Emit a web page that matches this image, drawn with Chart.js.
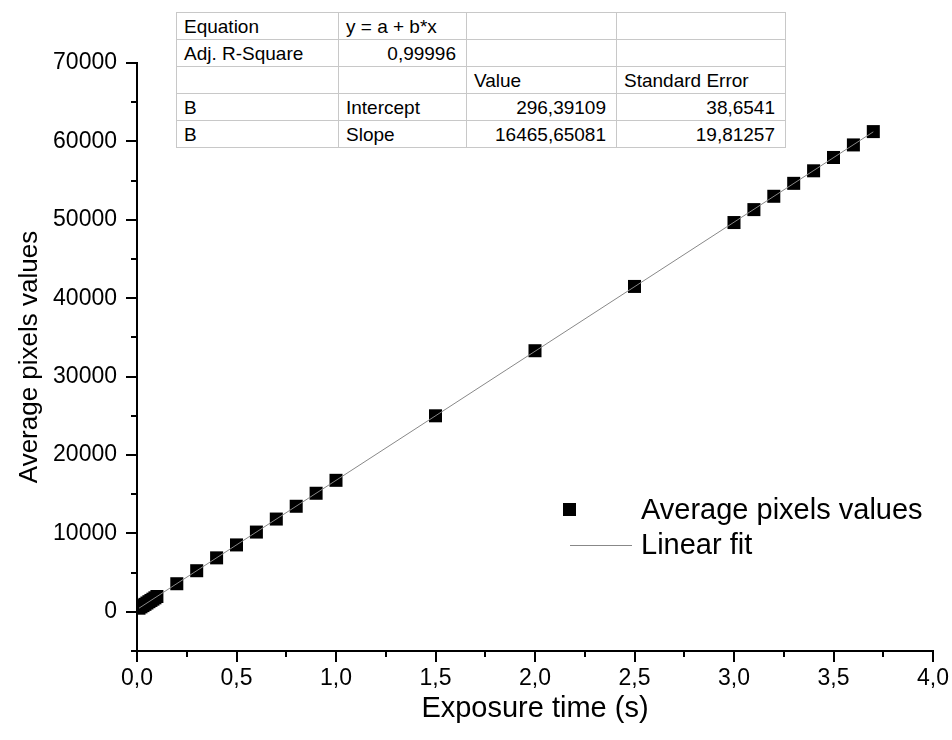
<!DOCTYPE html>
<html>
<head>
<meta charset="utf-8">
<script src="https://cdn.jsdelivr.net/npm/chart.js@4"></script>
<style>
  body { margin: 0; background: #fff; font-family: "Liberation Sans", Arial, sans-serif; }
  #wrap { position: relative; width: 952px; height: 740px; }
  #fitTable {
    position: absolute; left: 176px; top: 12px; width: 609px;
    table-layout: fixed; border-collapse: collapse; border: 1.5px solid #333;
    font-size: 19px; color: #000; background: #fff;
  }
  #fitTable tr { height: 27px; }
  #fitTable td { border: 1px solid #c8c8c8; padding: 0 10px 0 7px; line-height: 25px; white-space: nowrap; }
  #fitTable td.r { text-align: right; }
  #legend { position: absolute; left: 560px; top: 492px; font-size: 29px; color: #000; }
  #legend .row { height: 35px; display: flex; align-items: center; }
  #legend .sym { width: 81px; position: relative; height: 35px; }
</style>
</head>
<body>
<div id="wrap">
  <canvas id="chart" width="952" height="740"></canvas>
  <table id="fitTable">
    <colgroup><col style="width:162px"><col style="width:128px"><col style="width:150px"><col style="width:169px"></colgroup>
    <tr><td>Equation</td><td>y = a + b*x</td><td></td><td></td></tr>
    <tr><td>Adj. R-Square</td><td class="r">0,99996</td><td></td><td></td></tr>
    <tr><td></td><td></td><td>Value</td><td>Standard Error</td></tr>
    <tr><td>B</td><td>Intercept</td><td class="r">296,39109</td><td class="r">38,6541</td></tr>
    <tr><td>B</td><td>Slope</td><td class="r">16465,65081</td><td class="r">19,81257</td></tr>
  </table>
  <div id="legend">
    <div class="row"><div class="sym"><div style="position:absolute;left:3px;top:11px;width:13px;height:13px;background:#000"></div></div><span>Average pixels values</span></div>
    <div class="row"><div class="sym"><div style="position:absolute;left:10px;top:18px;width:62px;height:1px;background:#888"></div></div><span>Linear fit</span></div>
  </div>
</div>
<script>
// exposure times (s) and measured averages
const exposureTimes = [0.01, 0.02, 0.03, 0.04, 0.05, 0.06, 0.07, 0.08, 0.09, 0.1,
  0.2, 0.3, 0.4, 0.5, 0.6, 0.7, 0.8, 0.9, 1.0, 1.5, 2.0, 2.5,
  3.0, 3.1, 3.2, 3.3, 3.4, 3.5, 3.6, 3.7];
const avgPixels = [460, 630, 790, 950, 1120, 1290, 1450, 1610, 1780, 1950,
  3580, 5240, 6880, 8530, 10170, 11830, 13460, 15120, 16770, 25000, 33300, 41500,
  49650, 51300, 53000, 54650, 56250, 57950, 59550, 61250];

// linear fit ends
const fitX = [0.01, 3.7];
const fitY = [461, 61220];

const xMin = 0, xMax = 4, xStep = 0.25;
const yMin = -5000, yMax = 70000, yStep = 5000;

const font = "'Liberation Sans', Arial, sans-serif";

// draws outward ticks, long for labelled values, short for minor ones
const tickMarks = {
  id: "tickMarks",
  afterDraw(chart) {
    const ctx = chart.ctx;
    const xs = chart.scales.x, ys = chart.scales.y;
    ctx.save();
    ctx.strokeStyle = "#000";
    ctx.lineWidth = 2;
    xs.ticks.forEach((t) => {
      const px = Math.round(xs.getPixelForValue(t.value));
      const len = t.label ? 11 : 6;
      ctx.beginPath();
      ctx.moveTo(px, xs.top);
      ctx.lineTo(px, xs.top + len);
      ctx.stroke();
    });
    ys.ticks.forEach((t) => {
      const py = Math.round(ys.getPixelForValue(t.value));
      const len = t.label ? 11 : 6;
      ctx.beginPath();
      ctx.moveTo(ys.right, py);
      ctx.lineTo(ys.right - len, py);
      ctx.stroke();
    });
    ctx.restore();
  },
};

new Chart(document.getElementById("chart"), {
  type: "scatter",
  data: {
    datasets: [
      {
        label: "Linear fit",
        type: "line",
        data: fitX.map((x, i) => ({ x: x, y: fitY[i] })),
        borderColor: "#888",
        borderWidth: 1,
        pointRadius: 0,
        fill: false,
        order: 0,
      },
      {
        label: "Average pixels values",
        data: exposureTimes.map((x, i) => ({ x: x, y: avgPixels[i] })),
        pointStyle: "rect",
        pointRadius: 9.2,
        backgroundColor: "#000",
        borderColor: "#000",
        borderWidth: 0,
        order: 1,
      },
    ],
  },
  options: {
    responsive: false,
    animation: false,
    layout: { padding: { top: 63, right: 19, left: 0, bottom: 0 } },
    plugins: { legend: { display: false }, tooltip: { enabled: false } },
    scales: {
      x: {
        type: "linear",
        min: xMin,
        max: xMax,
        afterFit: (s) => { s.height = 89; s.paddingLeft = 0; s.paddingRight = 0; },
        border: { color: "#000", width: 2 },
        grid: { display: false, drawTicks: false },
        ticks: {
          stepSize: xStep,
          padding: 14,
          color: "#000",
          font: { family: font, size: 23 },
          maxRotation: 0,
          autoSkip: false,
          callback: (v) => (Math.abs(v * 2 - Math.round(v * 2)) < 1e-9 ? v.toFixed(1).replace(".", ",") : ""),
        },
        title: {
          display: true,
          text: "Exposure time (s)",
          color: "#000",
          font: { family: font, size: 29 },
          padding: { top: 0, bottom: 14 },
        },
      },
      y: {
        type: "linear",
        min: yMin,
        max: yMax,
        afterFit: (s) => { s.width = 137; s.paddingTop = 0; s.paddingBottom = 0; },
        border: { color: "#000", width: 2 },
        grid: { display: false, drawTicks: false },
        ticks: {
          stepSize: yStep,
          padding: 20,
          color: "#000",
          font: { family: font, size: 23 },
          autoSkip: false,
          callback: (v) => (v % 10000 === 0 ? String(v) : ""),
        },
        title: {
          display: true,
          text: "Average pixels values",
          color: "#000",
          font: { family: font, size: 26 },
          padding: { top: 14, bottom: 0 },
        },
      },
    },
  },
  plugins: [tickMarks],
});
</script>
</body>
</html>
